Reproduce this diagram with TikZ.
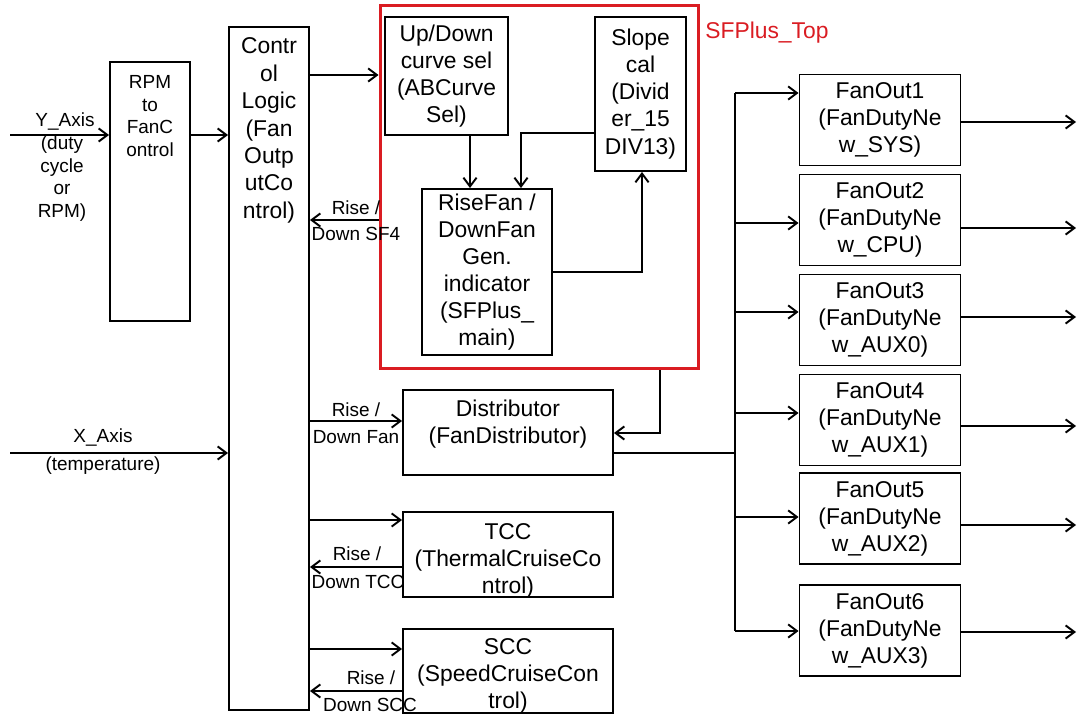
\documentclass[tikz,border=0pt]{standalone}
\usepackage{fontspec}
\setmainfont{Liberation Sans}
\usetikzlibrary{arrows.meta,positioning}
\definecolor{sfred}{RGB}{218,28,34}

\begin{document}
\begin{tikzpicture}[
  x=0.02cm, y=-0.02cm,
  blk/.style={draw, line width=1.1pt, inner sep=0pt, align=center,
              font=\fontsize{13}{15.4}\selectfont},
  txt/.style={align=center, inner sep=0pt, font=\fontsize{13}{15.4}\selectfont},
  sml/.style={align=center, inner sep=0pt, font=\fontsize{10.8}{12.9}\selectfont},
  fanout/.style={blk, minimum width=3.22cm, minimum height=1.82cm},
  arr/.style={-{Straight Barb[length=5pt,width=7.5pt]}, line width=1.1pt},
  wire/.style={line width=1.1pt},
]

\useasboundingbox (0,0) rectangle (1077,715);

% Inputs
\coordinate (yin) at (10,135);
\coordinate (xin) at (10,453);
\coordinate (rim) at (1076,0);

% Left column
\node[blk, minimum width=1.6cm, minimum height=5.18cm] (rpm) at (150,191.5) {};
\node[sml] (rpmtxt) at (150,116) {RPM\\to\\FanC\\ontrol};

\node[blk, minimum width=1.6cm, minimum height=13.66cm] (ctl) at (269,368.5) {};
\node[txt, font=\fontsize{13}{15.6}\selectfont] (ctltxt) at (269,130.5)
  {Contr\\ol\\Logic\\(Fan\\Outp\\utCo\\ntrol)};

% === SFPlus_Top ===
\node[draw=sfred, line width=1.7pt, minimum width=6.38cm, minimum height=7.28cm,
      inner sep=0pt] (top) at (539.5,187) {};
\node[txt, text=sfred, anchor=west] (toplbl) at (705,33) {SFPlus\_Top};

\node[blk, minimum width=2.46cm, minimum height=2.36cm] (updn) at (446.5,76)
  {Up/Down\\curve sel\\(ABCurve\\Sel)};
\node[blk, minimum width=1.82cm, minimum height=3.08cm] (slope) at (640.5,94)
  {Slope\\cal\\(Divid\\er\_15\\DIV13)};
\node[blk, minimum width=2.6cm, minimum height=3.32cm] (rise) at (487,272)
  {RiseFan /\\DownFan\\Gen.\\indicator\\(SFPlus\_\\main)};

\draw[arr] (updn.south -| 470,0) -- (rise.north -| 470,0);
\draw[arr] (slope.west |- 0,133) -| (rise.north -| 521,0);
\draw[arr] (rise.east |- 0,272) -| (slope.south -| 642,0);

% === Middle blocks ===
\node[blk, minimum width=4.2cm, minimum height=1.7cm] (dist) at (508,432.5) {};
\node[txt] (disttxt) at (508,424.5) {Distributor\\(FanDistributor)};

\node[blk, minimum width=4.2cm, minimum height=1.7cm] (tcc) at (508,554.5) {};
\node[txt] (tcctxt) at (508,560.5) {TCC\\(ThermalCruiseCo\\ntrol)};

\node[blk, minimum width=4.2cm, minimum height=1.68cm] (scc) at (508,671) {};
\node[txt] (scctxt) at (508,676) {SCC\\(SpeedCruiseCon\\trol)};

% === Fan outputs ===
\foreach \i/\y/\tag in {1/120/SYS, 2/220/CPU, 3/320/AUX0, 4/420/AUX1, 5/518.5/AUX2, 6/630.5/AUX3}
  \node[fanout] (fo\i) at (880,\y) {FanOut\i\\(FanDutyNe\\w\_\tag)};

\coordinate (bus) at (735,453);
\draw[wire] (dist.east |- bus) -- (bus);
\draw[wire] (bus |- 0,93) -- (bus |- 0,631);
\foreach \i/\y in {1/93, 2/223, 3/312, 4/413, 5/517, 6/631}
  \draw[arr] (bus |- 0,\y) -- (fo\i.west |- 0,\y);
\foreach \i/\y in {1/122, 2/228, 3/317, 4/426, 5/525, 6/632}
  \draw[arr] (fo\i.east |- 0,\y) -- (rim |- 0,\y);

% Inputs and control links
\draw[arr] (yin) -- (rpm.west |- yin);
\draw[arr] (rpm.east |- yin) -- (ctl.west |- yin);
\draw[arr] (xin) -- (ctl.west |- xin);
\node[sml] (ylbl) at (65,122) {Y\_Axis};
\node[sml] (ydesc) at (62,178.5) {(duty\\cycle\\or\\RPM)};
\node[sml] (xlbl) at (103,438) {X\_Axis};
\node[sml] (xdesc) at (103,466) {(temperature)};

\draw[arr] (ctl.east |- 0,75) -- (top.west |- 0,75);
\draw[arr] (top.west |- 0,220) -- (ctl.east |- 0,220);
\node[sml] (sf4a) at (356,208) {Rise /};
\node[sml] (sf4b) at (356,234) {Down SF4};

\draw[arr] (top.south -| 660,0) |- (dist.east |- 0,433);
\draw[arr] (ctl.east |- 0,421) -- (dist.west |- 0,421);
\node[sml] (fana) at (356,410) {Rise /};
\node[sml] (fanb) at (356,437) {Down Fan};

\draw[arr] (ctl.east |- 0,520) -- (tcc.west |- 0,520);
\draw[arr] (tcc.west |- 0,567) -- (ctl.east |- 0,567);
\node[sml] (tcca) at (357,554) {Rise /};
\node[sml] (tccb) at (358,582) {Down TCC};

\draw[arr] (ctl.east |- 0,649) -- (scc.west |- 0,649);
\draw[arr] (scc.west |- 0,691) -- (ctl.east |- 0,691);
\node[sml] (scca) at (371,678) {Rise /};
\node[sml] (sccb) at (370,705) {Down SCC};

\end{tikzpicture}
\end{document}
